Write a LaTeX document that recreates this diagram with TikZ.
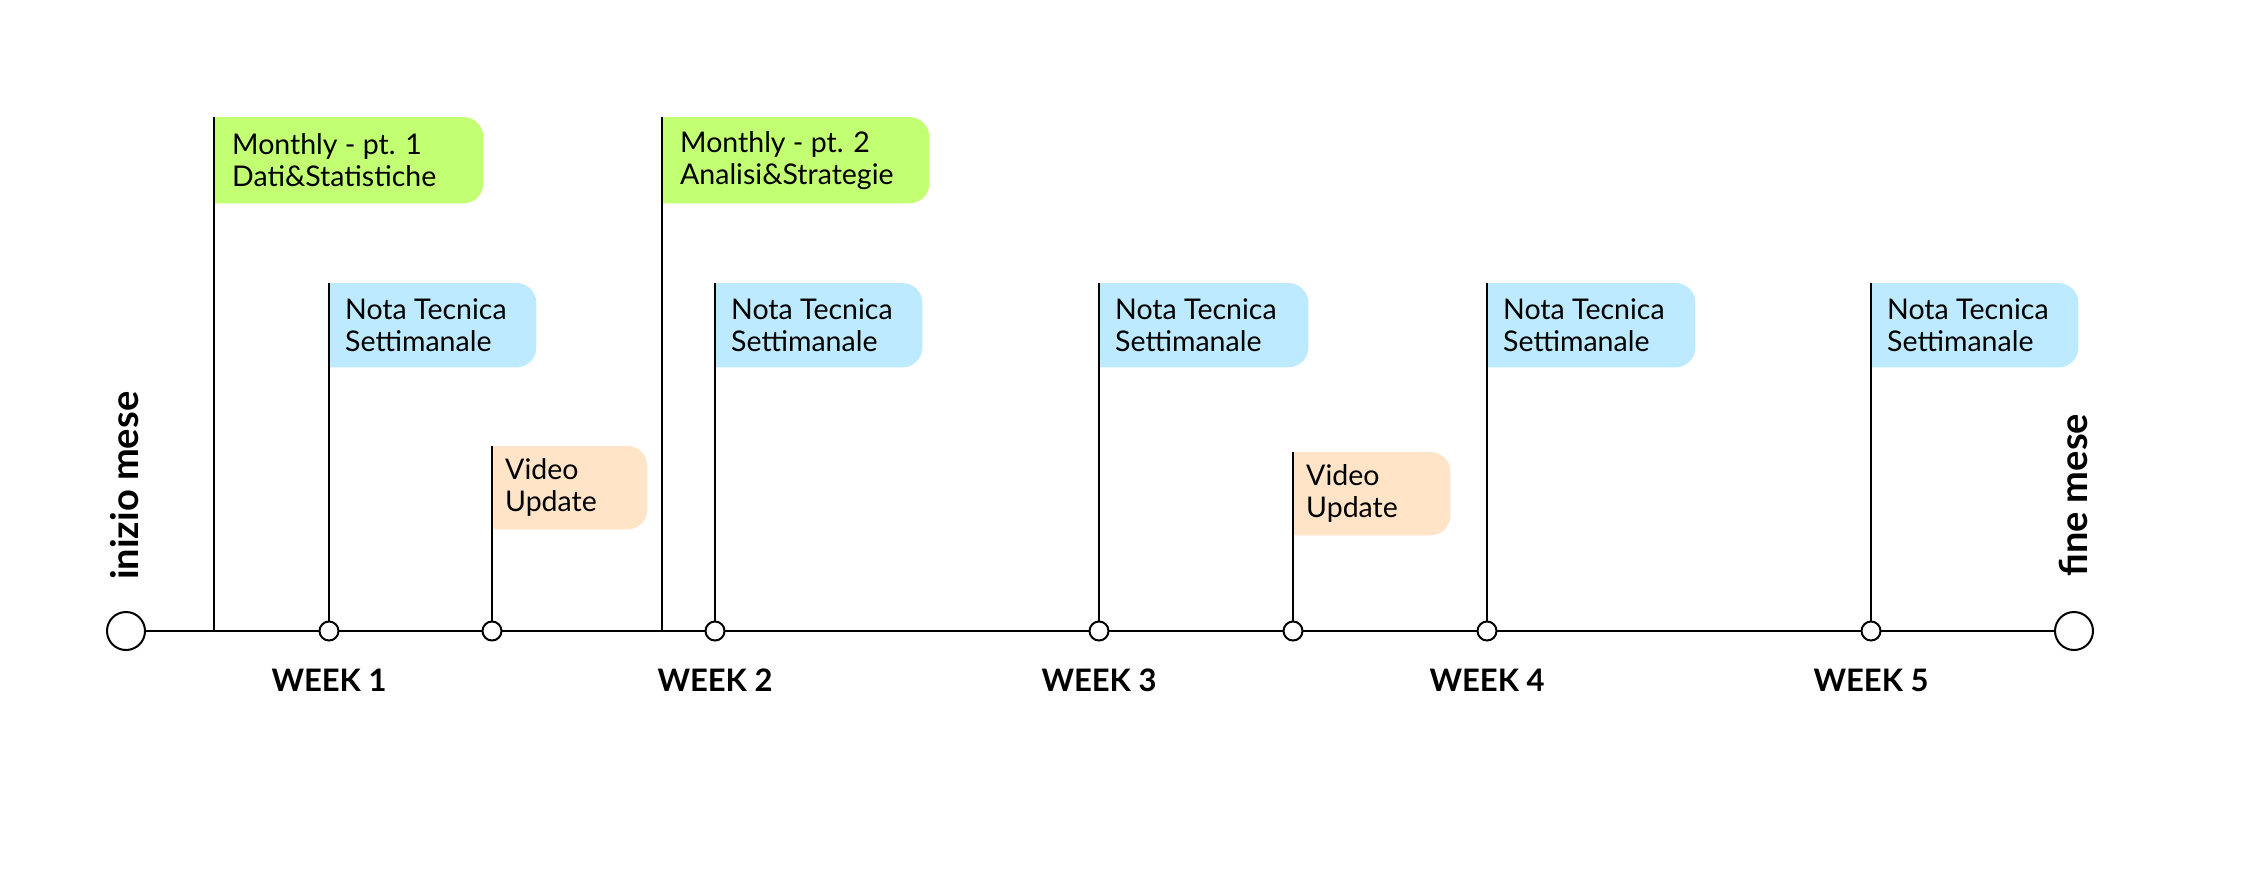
\documentclass[tikz,border=0pt]{standalone}
\usepackage{fontspec}
\setmainfont{Lato}
\usetikzlibrary{backgrounds}
\definecolor{color_monthly}{RGB}{194,255,114}
\definecolor{color_nota}{RGB}{189,234,254}
\definecolor{color_video}{RGB}{255,228,200}

\begin{document}
\begin{tikzpicture}[x=1pt, y=-1pt,
	flag/.style={anchor=north west, align=flush left, inner xsep=16pt, inner ysep=0pt, minimum height=84,
		font=\fontsize{28.5}{32}\selectfont,
		append after command={\pgfextra{\begin{pgfonlayer}{background}
			\fill[#1] (\tikzlastnode.south west) -- (\tikzlastnode.north west)
			-- ([xshift=-20pt]\tikzlastnode.north east) arc[start angle=90, end angle=0, radius=20pt]
			-- ([yshift=20pt]\tikzlastnode.south east) arc[start angle=0, end angle=-90, radius=20pt] -- cycle;
			\end{pgfonlayer}}}},
	stem/.style={line width=2pt},
	weekdot/.style={circle, draw, line width=2pt, fill=white, minimum size=19, inner sep=0pt},
	enddot/.style={weekdot, minimum size=38},
	week/.style={font=\bfseries\fontsize{31}{36}\selectfont, inner sep=0pt},
	monthend/.style={font=\bfseries\fontsize{38}{40}\selectfont, rotate=90, anchor=base west, inner sep=0pt}]
	\useasboundingbox (0,0) rectangle (2241,883);
	% LINEA DEL MESE
	\node[enddot] (start) at (126,631) {};
	\node[enddot] (end) at (2074,631) {};
	\draw[line width=2.5pt] (start) -- (end);
	\node[monthend] (inizio) at (138,580) {inizio mese};
	\node[monthend] (fine) at (2087,577) {fine mese};
	% PUNTI
	\node[weekdot] (d1) at (329,631) {};
	\node[weekdot] (v1dot) at (492,631) {};
	\node[weekdot] (d2) at (715,631) {};
	\node[weekdot] (d3) at (1099,631) {};
	\node[weekdot] (v2dot) at (1293,631) {};
	\node[weekdot] (d4) at (1487,631) {};
	\node[weekdot] (d5) at (1871,631) {};
	\coordinate (g1) at (214,631);
	\coordinate (g2) at (662,631);
	% MONTHLY
	\node[flag=color_monthly, inner xsep=18pt, text width=233pt, minimum height=86] (m1) at (214,117) {Monthly - pt. 1\\Dati\&Statistiche};
	\node[flag=color_monthly, inner xsep=18pt, text width=231pt, minimum height=86] (m2) at (662,117) {Monthly - pt. 2\\Analisi\&Strategie};
	\draw[stem] (m1.north west) -- (g1);
	\draw[stem] (m2.north west) -- (g2);
	% NOTA TECNICA
	\node[flag=color_nota, text width=175pt] (n1) at (329,283) {Nota Tecnica\\Settimanale};
	\node[flag=color_nota, text width=175pt] (n2) at (715,283) {Nota Tecnica\\Settimanale};
	\node[flag=color_nota, text width=177pt] (n3) at (1099,283) {Nota Tecnica\\Settimanale};
	\node[flag=color_nota, text width=176pt] (n4) at (1487,283) {Nota Tecnica\\Settimanale};
	\node[flag=color_nota, text width=175pt] (n5) at (1871,283) {Nota Tecnica\\Settimanale};
	\draw[stem] (n1.north west) -- (d1);
	\draw[stem] (n2.north west) -- (d2);
	\draw[stem] (n3.north west) -- (d3);
	\draw[stem] (n4.north west) -- (d4);
	\draw[stem] (n5.north west) -- (d5);
	% VIDEO
	\node[flag=color_video, inner xsep=13pt, text width=129pt, minimum height=83] (v1) at (492,446) {Video\\Update};
	\node[flag=color_video, inner xsep=13pt, text width=131pt, minimum height=83] (v2) at (1293,452) {Video\\Update};
	\draw[stem] (v1.north west) -- (v1dot);
	\draw[stem] (v2.north west) -- (v2dot);
	% SETTIMANE
	\node[week] (w1) at (329,680) {WEEK 1};
	\node[week] (w2) at (715,680) {WEEK 2};
	\node[week] (w3) at (1099,680) {WEEK 3};
	\node[week] (w4) at (1487,680) {WEEK 4};
	\node[week] (w5) at (1871,680) {WEEK 5};
\end{tikzpicture}
\end{document}
